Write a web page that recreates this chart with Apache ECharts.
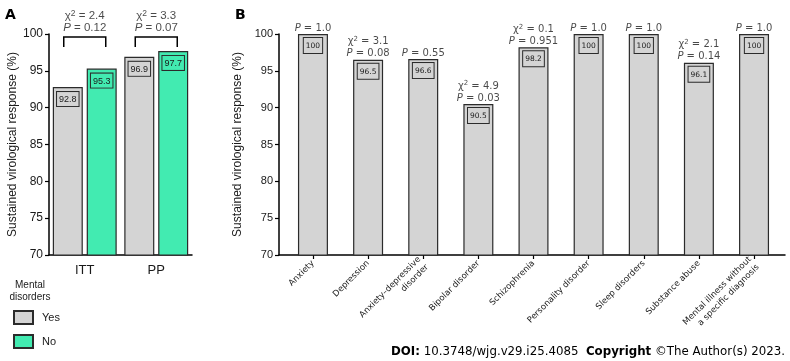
<!DOCTYPE html>
<html><head><meta charset="utf-8">
<script src="https://cdn.jsdelivr.net/npm/echarts@6/dist/echarts.min.js"></script>
<style>html,body{margin:0;padding:0;background:#fff}#c{width:790px;height:361px}</style>
</head><body><div id="c"></div>
<script>
// ---- Data ----
const groupsA = ['ITT', 'PP'];
const yesA = [92.8, 96.9];
const noA = [95.3, 97.7];
const chi2A = ['2.4', '3.3'];
const pA = ['0.12', '0.07'];

const catsB = ['Anxiety', 'Depression', 'Anxiety\u2013depressive\ndisorder', 'Bipolar disorder', 'Schizophrenia',
  'Personality disorder', 'Sleep disorders', 'Substance abuse', 'Mental illness without\na specific diagnosis'];
const valuesB = [100, 96.5, 96.6, 90.5, 98.2, 100, 100, 96.1, 100];
const chi2B = [null, '3.1', null, '4.9', '0.1', null, null, '2.1', null];
const pB = ['1.0', '0.08', '0.55', '0.03', '0.951', '1.0', '1.0', '0.14', '1.0'];

const yMin = 70, yMax = 100, yStep = 5;
const legendTitle = 'Mental\ndisorders';

// ---- Styles ----
const GREY = '#d4d4d4', GREEN = '#42ebb1', EDGE = '#2b2b2b', TXT = '#1a1a1a';
const ARIAL = 'Liberation Sans', VERD = 'DejaVu Sans';

function annot(chi, p) {
  let s = '';
  if (chi !== null) s += '{g|\u03c7}{s|2}{t| = ' + chi + '}\n';
  s += '{i|P}{t| = ' + p + '}';
  return s;
}
function richFor(fam, fs, lh) {
  return {
    g: {fontFamily: fam, fontSize: fs, color: TXT, lineHeight: lh},
    s: {fontFamily: fam, fontSize: fs - 3, color: TXT, verticalAlign: 'top', padding: [0, 0, 5, 0], lineHeight: lh},
    t: {fontFamily: fam, fontSize: fs, color: TXT, lineHeight: lh},
    i: {fontFamily: fam, fontSize: fs, fontStyle: 'italic', color: TXT, lineHeight: lh}
  };
}

const yAxisCommon = (fs) => ({
  type: 'value', min: yMin, max: yMax, interval: yStep,
  name: 'Sustained virological response (%)', nameLocation: 'middle', nameGap: 30,
  nameTextStyle: {fontFamily: ARIAL, fontSize: 12, color: TXT},
  axisLine: {show: true, lineStyle: {color: '#000', width: 1.5}},
  axisTick: {show: true, length: 4, lineStyle: {color: '#000', width: 1.2}},
  axisLabel: {fontFamily: ARIAL, fontSize: fs, color: TXT, margin: 6},
  splitLine: {show: false}
});

const valueLabel = (bg, fam, fs, pad, dist) => ({
  show: true, position: 'insideTop', distance: dist,
  fontFamily: fam, fontSize: fs, color: TXT,
  backgroundColor: bg, borderColor: EDGE, borderWidth: 1, padding: pad
});

const option = {
  animation: false,
  backgroundColor: '#fff',
  title: [
    {text: 'A', left: 5, top: 8, padding: 0, textStyle: {fontFamily: VERD, fontWeight: 'bold', fontSize: 14, color: '#000'}},
    {text: 'B', left: 235, top: 8, padding: 0, textStyle: {fontFamily: VERD, fontWeight: 'bold', fontSize: 14, color: '#000'}},
    {text: legendTitle, left: 30, top: 279, padding: 0, textAlign: 'center',
     textStyle: {fontFamily: ARIAL, fontWeight: 'normal', fontSize: 10, color: TXT, lineHeight: 12, align: 'center'}},
    {text: '{b|DOI:} 10.3748/wjg.v29.i25.4085  {b|Copyright} \u00a9The Author(s) 2023.', right: 5, top: 346, padding: 0,
     textStyle: {fontFamily: VERD, fontWeight: 'normal', fontSize: 11.8, color: '#000',
       rich: {b: {fontFamily: VERD, fontWeight: 'bold', fontSize: 11.8, color: '#000'}}}}
  ],
  legend: {
    data: ['Yes', 'No'], orient: 'vertical', left: 13, top: 310, padding: 0, icon: 'rect',
    itemWidth: 19, itemHeight: 13, itemGap: 9,
    textStyle: {fontFamily: ARIAL, fontSize: 11, color: TXT, padding: [0, 0, 0, 4]}
  },
  grid: [
    {left: 49, top: 34, width: 143, height: 221},
    {left: 285.4, top: 34, width: 496.2, height: 221},
    {left: 279, top: 34, width: 506, height: 221}
  ],
  xAxis: [
    {type: 'category', gridIndex: 0, data: groupsA,
     axisLine: {show: true, lineStyle: {color: '#000', width: 1.5}}, axisTick: {show: false},
     axisLabel: {fontFamily: ARIAL, fontSize: 13, color: TXT, margin: 9}},
    {type: 'category', gridIndex: 1, data: catsB,
     axisLine: {show: false}, axisTick: {show: true, alignWithLabel: true, length: 4, lineStyle: {color: '#000', width: 1.2}},
     axisLabel: {fontFamily: VERD, fontSize: 8.5, color: TXT, rotate: 45, margin: 7, interval: 0, lineHeight: 11}},
    {type: 'value', gridIndex: 2, min: 0, max: 1,
     axisLine: {show: true, lineStyle: {color: '#000', width: 1.5}}, axisTick: {show: false},
     axisLabel: {show: false}, splitLine: {show: false}}
  ],
  yAxis: [
    Object.assign(yAxisCommon(12), {gridIndex: 0}),
    Object.assign(yAxisCommon(11), {gridIndex: 1, offset: 6.4}),
    {type: 'value', gridIndex: 2, show: false, min: 0, max: 1}
  ],
  series: [
    {name: 'Yes', type: 'bar', xAxisIndex: 0, yAxisIndex: 0, data: yesA, barWidth: 30, barGap: '13%',
     itemStyle: {color: GREY, borderColor: EDGE, borderWidth: 1.2},
     label: valueLabel(GREY, ARIAL, 9, [3, 2, 2, 2], 5)},
    {name: 'No', type: 'bar', xAxisIndex: 0, yAxisIndex: 0, data: noA, barWidth: 30, barGap: '13%',
     itemStyle: {color: GREEN, borderColor: EDGE, borderWidth: 1.2},
     label: valueLabel(GREEN, ARIAL, 9, [3, 2, 2, 2], 5)},
    {name: 'bracketsA', type: 'custom', xAxisIndex: 0, yAxisIndex: 0, silent: true,
     data: groupsA.map((g, i) => [i]),
     renderItem: function (params, api) {
       const c = api.coord([api.value(0), yMax]);
       const top = c[1] + 3, leg = c[1] + 13, hw = 21;
       return {type: 'polyline', shape: {points: [[c[0] - hw, leg], [c[0] - hw, top], [c[0] + hw, top], [c[0] + hw, leg]]},
         style: {stroke: '#000', lineWidth: 1.5, fill: null}};
     }},
    {name: 'annotA', type: 'scatter', xAxisIndex: 0, yAxisIndex: 0, silent: true, symbolSize: 0,
     data: groupsA.map(() => yMax),
     label: {show: true, position: 'top', distance: 0.5, align: 'center',
       formatter: p => annot(chi2A[p.dataIndex], pA[p.dataIndex]), rich: richFor(ARIAL, 11.5, 12)}},
    {name: 'B', type: 'bar', xAxisIndex: 1, yAxisIndex: 1, data: valuesB, barWidth: 30,
     itemStyle: {color: GREY, borderColor: EDGE, borderWidth: 1.2},
     label: valueLabel(GREY, VERD, 7.5, [4, 2, 3, 2], 4)},
    {name: 'annotB', type: 'scatter', xAxisIndex: 1, yAxisIndex: 1, silent: true, symbolSize: 0,
     data: valuesB,
     label: {show: true, position: 'top', distance: 0, align: 'center',
       formatter: p => annot(chi2B[p.dataIndex], pB[p.dataIndex]), rich: richFor(VERD, 10, 12)}}
  ]
};

const chart = echarts.init(document.getElementById('c'), null, {renderer: 'canvas'});
chart.setOption(option);
</script>
</body></html>
